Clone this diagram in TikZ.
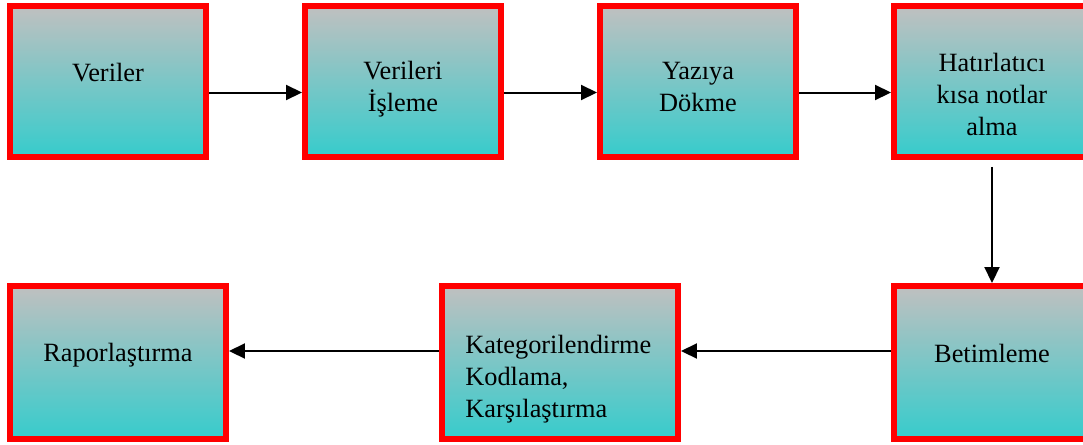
\documentclass[tikz,border=0pt]{standalone}
\usepackage{fontspec}
\setmainfont{Liberation Serif}
\usetikzlibrary{arrows.meta}
\definecolor{boxtop}{RGB}{192,192,192}
\definecolor{boxbot}{RGB}{54,204,204}
\definecolor{boxline}{RGB}{255,0,0}
\begin{document}
\begin{tikzpicture}[x=0.02cm, y=-0.02cm,
    stage/.style={draw=boxline, line width=0.12cm, top color=boxtop, bottom color=boxbot,
      inner sep=0pt, minimum width=3.92cm, minimum height=3.02cm},
    caption/.style={anchor=base, align=center, inner sep=0pt, font=\fontsize{15}{18}\selectfont},
    flow/.style={line width=0.04cm, -{Triangle[length=0.32cm, width=0.3cm]}}]
  \useasboundingbox (0,0) rectangle (1083,444);
  \clip (0,0) rectangle (1083,444);

  % upper row
  \node[stage] (veriler) at (108, 81.5) {};
  \node[stage] (isleme) at (403, 81.5) {};
  \node[stage] (yazi) at (698, 81.5) {};
  \node[stage] (notlar) at (992, 81.5) {};

  % captions sit on the baseline of their last line
  \node[caption] (veriler-t) at (108, 81) {Veriler};
  \node[caption] (isleme-t) at (403, 111.5) {Verileri\\İşleme};
  \node[caption] (yazi-t) at (698, 111.5) {Yazıya\\Dökme};
  \node[caption] (notlar-t) at (992, 135) {Hatırlatıcı\\kısa notlar\\alma};

  % lower row
  \node[stage, minimum width=4.32cm, minimum height=3.06cm] (rapor) at (118, 362.5) {};
  \node[stage, minimum width=4.72cm, minimum height=3.06cm] (kodla) at (560, 362.5) {};
  \node[stage, minimum height=3.06cm] (betim) at (992, 362.5) {};

  \node[caption] (rapor-t) at (118, 361) {Raporlaştırma};
  \node[caption, anchor=base west, align=left] (kodla-t) at (465, 417)
    {Kategorilendirme\\Kodlama,\\Karşılaştırma};
  \node[caption] (betim-t) at (992, 362) {Betimleme};

  \draw[flow] ([yshift=-0.22cm]veriler.east) -- ([yshift=-0.22cm]isleme.west);
  \draw[flow] ([yshift=-0.22cm]isleme.east) -- ([yshift=-0.22cm]yazi.west);
  \draw[flow] ([yshift=-0.22cm]yazi.east) -- ([yshift=-0.22cm]notlar.west);
  \draw[flow] ([yshift=-0.14cm]notlar.south) -- (betim.north);
  \draw[flow] ([yshift=0.23cm]betim.west) -- ([yshift=0.23cm]kodla.east);
  \draw[flow] ([yshift=0.23cm]kodla.west) -- ([yshift=0.23cm]rapor.east);
\end{tikzpicture}
\end{document}
